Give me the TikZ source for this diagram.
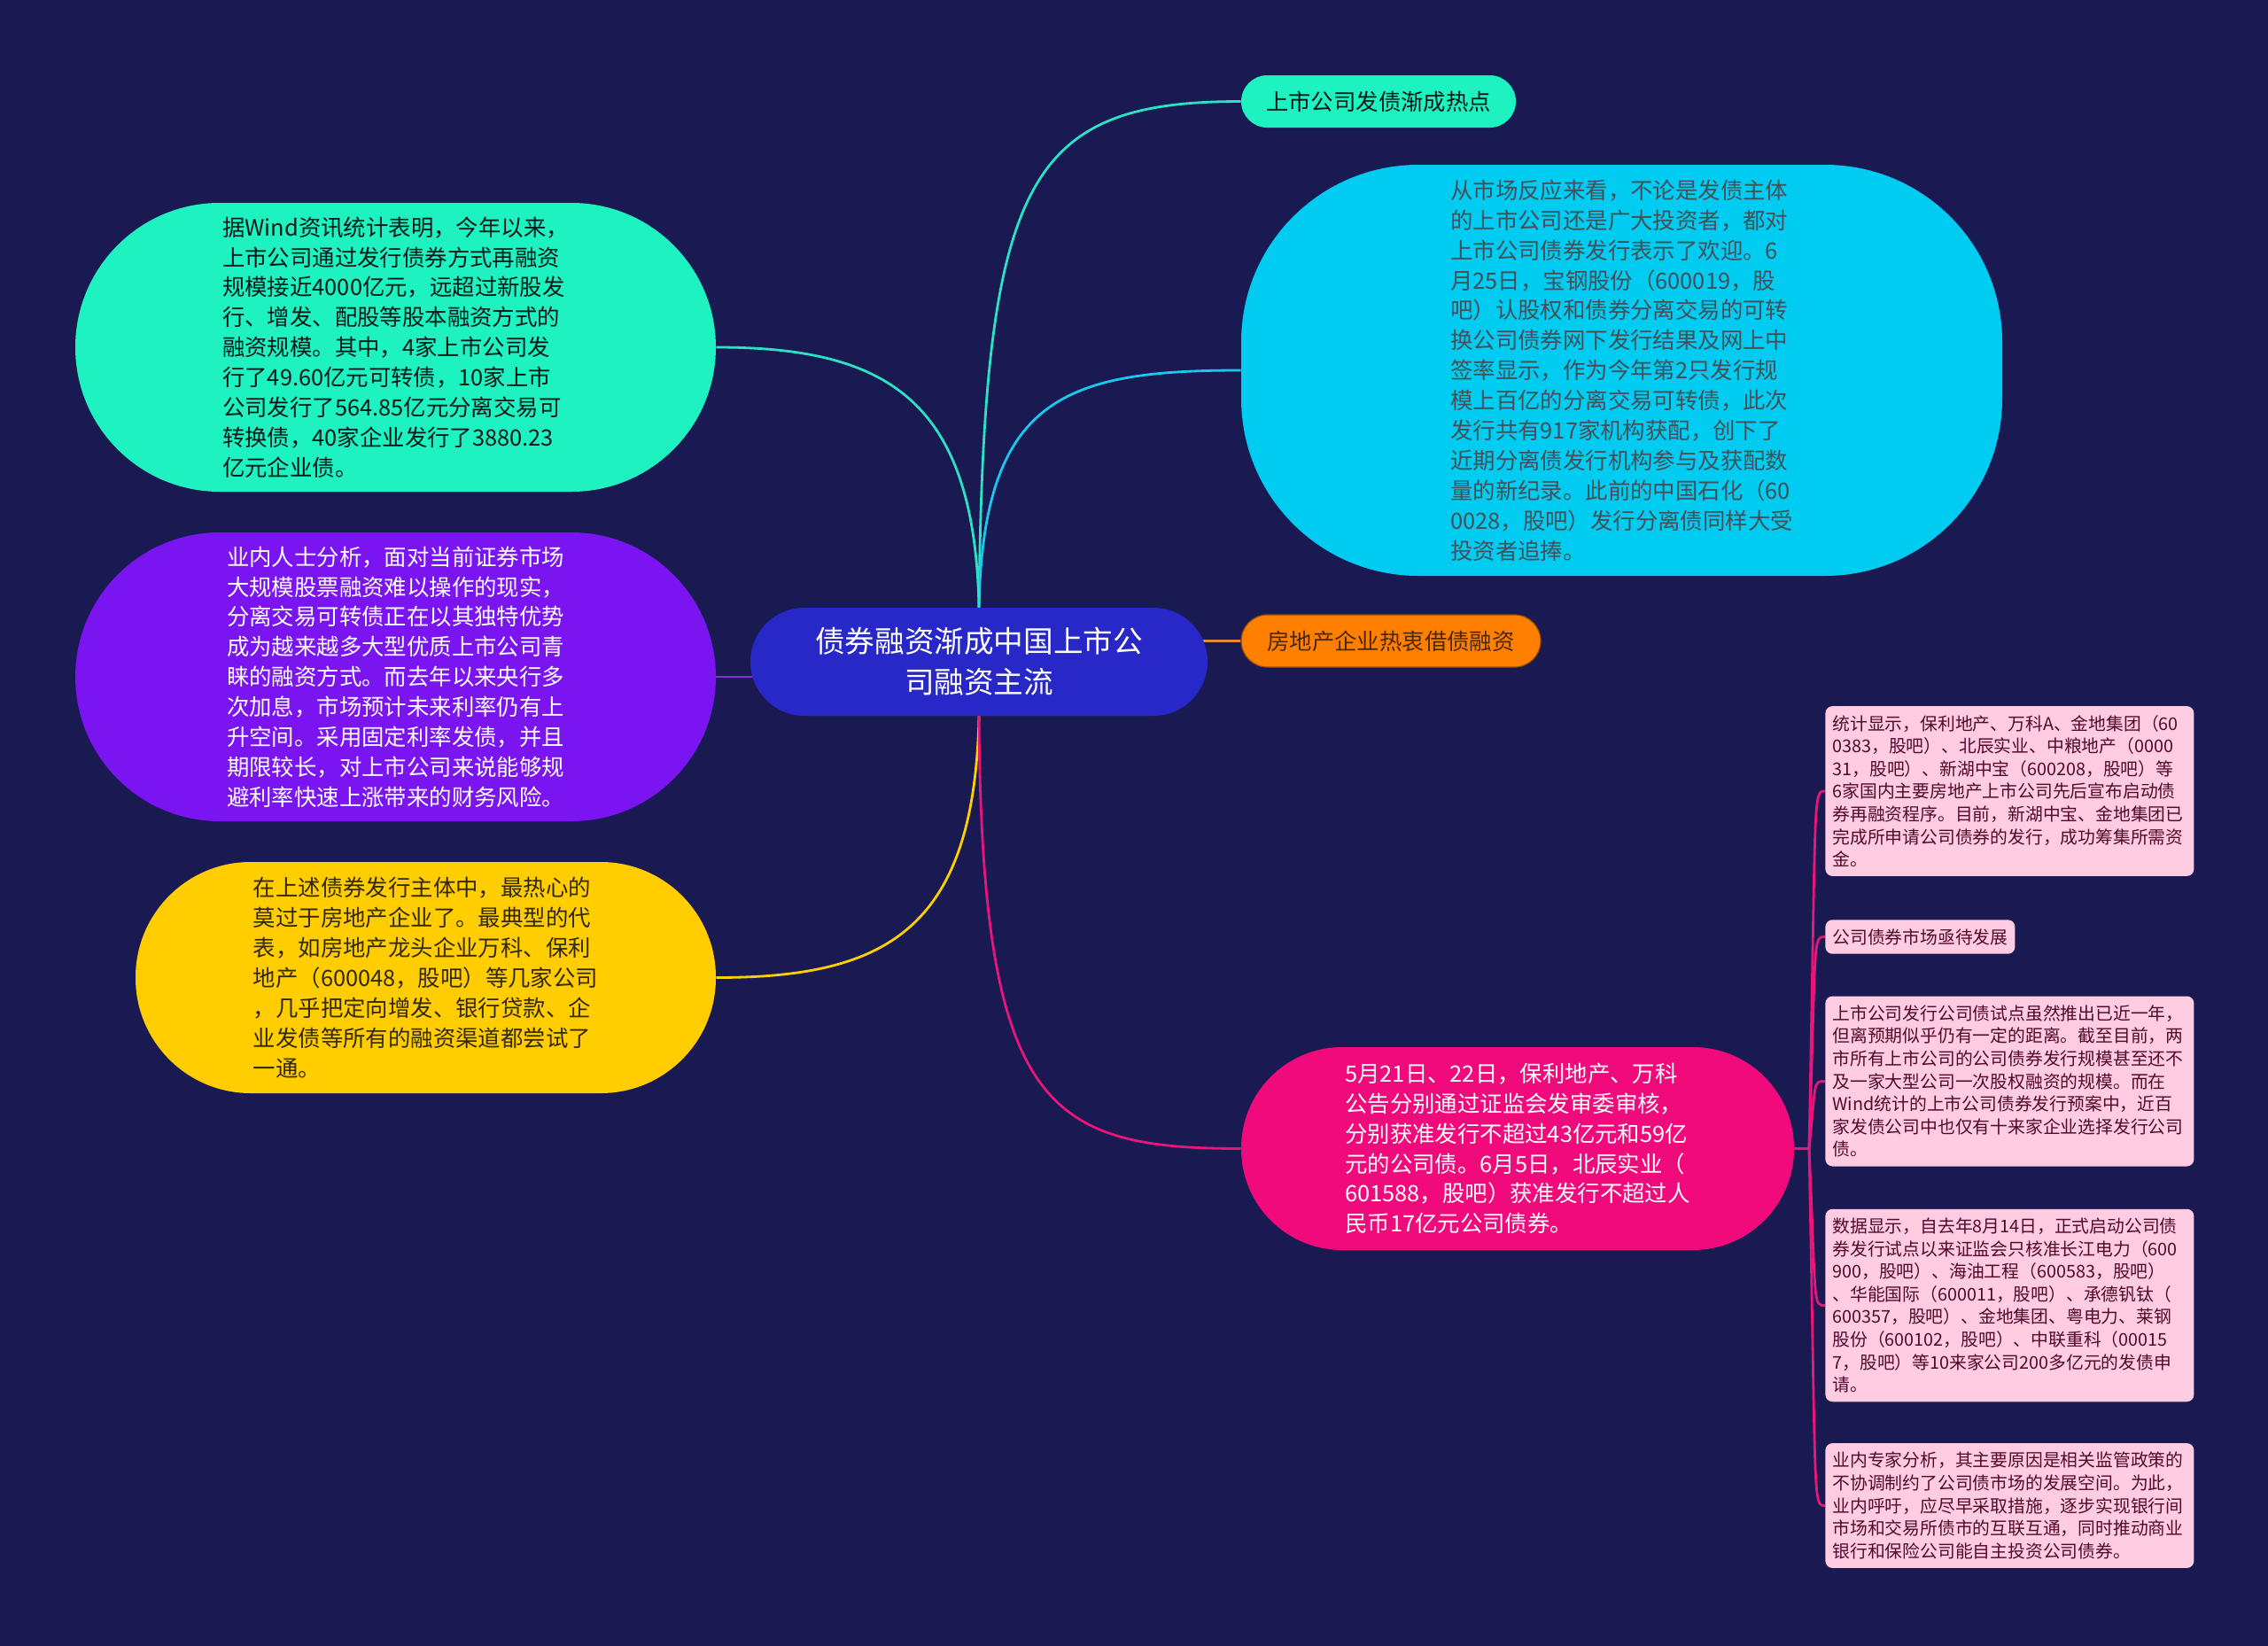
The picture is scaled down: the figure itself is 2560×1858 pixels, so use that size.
\documentclass[tikz,border=0pt]{standalone}
\usepackage{fontspec}
\setmainfont{Noto Sans CJK SC}
\usetikzlibrary{backgrounds,calc}

\definecolor{bgcol}{HTML}{1A1A52}
\definecolor{rootcol}{HTML}{2828C8}
\definecolor{mintcol}{HTML}{1DF2C0}
\definecolor{cyancol}{HTML}{00CBF0}
\definecolor{orngcol}{HTML}{FF8000}
\definecolor{purpcol}{HTML}{7A14F0}
\definecolor{yelcol}{HTML}{FFCD00}
\definecolor{pinkcol}{HTML}{F00A7C}
\definecolor{leafcol}{HTML}{FFCCE2}
\definecolor{mintline}{HTML}{2BE3C4}
\definecolor{cyanline}{HTML}{1AC8EC}
\definecolor{purpline}{HTML}{8B2BE0}
\definecolor{yelline}{HTML}{FFD000}
\definecolor{pinkline}{HTML}{E8157A}
\definecolor{orngline}{HTML}{E58A3C}

\newcommand{\bodyfont}{\fontsize{12.7pt}{16.95pt}\selectfont}
\newcommand{\leaffont}{\fontsize{9.9pt}{12.8pt}\selectfont}
\newcommand{\rootfont}{\fontsize{16.8pt}{22.9pt}\selectfont}

\begin{document}
\begin{tikzpicture}[x=0.5pt, y=-0.5pt,
  link/.style={line width=1.4pt},
  branch/.style={align=left, font=\bodyfont, inner sep=0pt},
  leaf/.style={fill=leafcol, text=HTML3B1530, rounded corners=4pt, anchor=west,
    align=left, font=\leaffont, inner xsep=4pt, inner ysep=5pt}]
  \colorlet{HTML3B1530}{black!40!pinkline!60!black}

  % Root
  \node[fill=rootcol, text=white, align=center, font=\rootfont, rounded corners=30.5pt,
    minimum width=258pt, minimum height=61pt] (root) at (1105,747)
    {债券融资渐成中国上市公\\司融资主流};

  % Right side
  \node[branch, fill=mintcol, text=black!80!teal, rounded corners=14.75pt,
    minimum width=155pt, minimum height=29.5pt] (htop) at (1556,114.5) {上市公司发债渐成热点};
  \node[branch, fill=cyancol, text=black!75!cyan, rounded corners=100pt,
    minimum width=429.5pt, minimum height=232pt] (hmkt) at (1830.5,418)
    {从市场反应来看，不论是发债主体\\
     的上市公司还是广大投资者，都对\\
     上市公司债券发行表示了欢迎。6\\
     月25日，宝钢股份（600019，股\\
     吧）认股权和债券分离交易的可转\\
     换公司债券网下发行结果及网上中\\
     签率显示，作为今年第2只发行规\\
     模上百亿的分离交易可转债，此次\\
     发行共有917家机构获配，创下了\\
     近期分离债发行机构参与及获配数\\
     量的新纪录。此前的中国石化（60\\
     0028，股吧）发行分离债同样大受\\
     投资者追捧。};
  \node[branch, fill=orngcol, text=black!70!orngcol, draw=orngcol!60!black, line width=0.6pt,
    rounded corners=14.75pt, minimum width=169pt, minimum height=29.5pt] (hest) at (1570,723.5)
    {房地产企业热衷借债融资};
  \node[branch, fill=pinkcol, text=white, rounded corners=57pt,
    minimum width=312pt, minimum height=114.5pt] (hpol) at (1713,1296.5)
    {5月21日、22日，保利地产、万科\\
     公告分别通过证监会发审委审核，\\
     分别获准发行不超过43亿元和59亿\\
     元的公司债。6月5日，北辰实业（\\
     601588，股吧）获准发行不超过人\\
     民币17亿元公司债券。};

  % Left side
  \node[branch, fill=mintcol, text=black!80!teal, rounded corners=81.5pt,
    minimum width=361.5pt, minimum height=163pt] (hwind) at (446.5,392)
    {据Wind资讯统计表明，今年以来，\\
     上市公司通过发行债券方式再融资\\
     规模接近4000亿元，远超过新股发\\
     行、增发、配股等股本融资方式的\\
     融资规模。其中，4家上市公司发\\
     行了49.60亿元可转债，10家上市\\
     公司发行了564.85亿元分离交易可\\
     转换债，40家企业发行了3880.23\\
     亿元企业债。};
  \node[branch, fill=purpcol, text=white, rounded corners=81.5pt,
    minimum width=361.5pt, minimum height=163pt] (hana) at (446.5,764)
    {业内人士分析，面对当前证券市场\\
     大规模股票融资难以操作的现实，\\
     分离交易可转债正在以其独特优势\\
     成为越来越多大型优质上市公司青\\
     睐的融资方式。而去年以来央行多\\
     次加息，市场预计未来利率仍有上\\
     升空间。采用固定利率发债，并且\\
     期限较长，对上市公司来说能够规\\
     避利率快速上涨带来的财务风险。};
  \node[branch, fill=yelcol, text=black!80!yelcol, rounded corners=65pt,
    minimum width=327.5pt, minimum height=130.5pt] (hprop) at (480.5,1103.5)
    {在上述债券发行主体中，最热心的\\
     莫过于房地产企业了。最典型的代\\
     表，如房地产龙头企业万科、保利\\
     地产（600048，股吧）等几家公司\\
     ，几乎把定向增发、银行贷款、企\\
     业发债等所有的融资渠道都尝试了\\
     一通。};

  % Leaves of the pink branch
  \node[leaf, text width=200pt] (sa) at (2060,893)
    {统计显示，保利地产、万科A、金地集团（60\\
     0383，股吧）、北辰实业、中粮地产（0000\\
     31，股吧）、新湖中宝（600208，股吧）等\\
     6家国内主要房地产上市公司先后宣布启动债\\
     券再融资程序。目前，新湖中宝、金地集团已\\
     完成所申请公司债券的发行，成功筹集所需资\\
     金。};
  \node[leaf] (sb) at (2060,1057.5) {公司债券市场亟待发展};
  \node[leaf, text width=200pt] (sc) at (2060,1220.5)
    {上市公司发行公司债试点虽然推出已近一年，\\
     但离预期似乎仍有一定的距离。截至目前，两\\
     市所有上市公司的公司债券发行规模甚至还不\\
     及一家大型公司一次股权融资的规模。而在\\
     Wind统计的上市公司债券发行预案中，近百\\
     家发债公司中也仅有十来家企业选择发行公司\\
     债。};
  \node[leaf, text width=200pt] (sd) at (2060,1473.5)
    {数据显示，自去年8月14日，正式启动公司债\\
     券发行试点以来证监会只核准长江电力（600\\
     900，股吧）、海油工程（600583，股吧）\\
     、华能国际（600011，股吧）、承德钒钛（\\
     600357，股吧）、金地集团、粤电力、莱钢\\
     股份（600102，股吧）、中联重科（00015\\
     7，股吧）等10来家公司200多亿元的发债申\\
     请。};
  \node[leaf, text width=200pt] (se) at (2060,1699.5)
    {业内专家分析，其主要原因是相关监管政策的\\
     不协调制约了公司债市场的发展空间。为此，\\
     业内呼吁，应尽早采取措施，逐步实现银行间\\
     市场和交易所债市的互联互通，同时推动商业\\
     银行和保险公司能自主投资公司债券。};

  \begin{scope}[on background layer]
    \fill[bgcol] (0,0) rectangle (2560,1858);
    % Branches above the root
    \draw[link, mintline] (root.north) .. controls (1110,200) and (1160,114.5) .. (htop.west);
    \draw[link, cyanline] (root.north) .. controls (1110,450) and (1200,418) .. (hmkt.west);
    \draw[link, mintline] (root.north) .. controls (1100,450) and (1000,392) .. (hwind.east);
    % Side stubs
    \draw[link, purpline] (hana.east) -- (hana.east -| root.center);
    \draw[link, orngline] (hest.west) -- (hest.west -| root.center);
    % Branches below the root
    \draw[link, yelline] (root.south) .. controls (1100,1050) and (1000,1103.5) .. (hprop.east);
    \draw[link, pinkline] (root.south) .. controls (1108,1250) and (1180,1296.5) .. (hpol.west);
    % Leaves
    \coordinate (hub) at (2042,1296.5);
    \draw[link, pinkline] (hpol.east) -- (hub);
    \foreach \leaf in {sa,sb,sc,sd,se}
      \draw[link, pinkline] (hub) .. controls ($(hub |- \leaf.west)+(8,0)$)
        and ($(hub |- \leaf.west)+(4,0)$) .. (\leaf.west);
  \end{scope}
\end{tikzpicture}
\end{document}
